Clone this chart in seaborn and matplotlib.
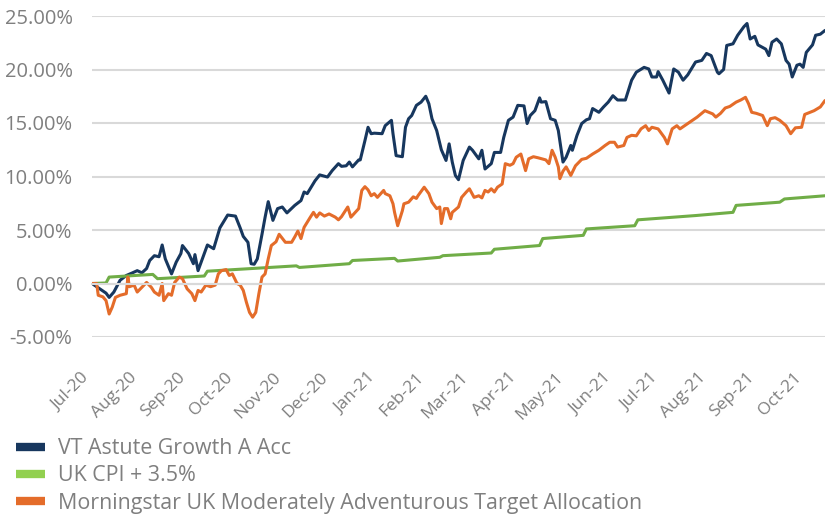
import matplotlib
matplotlib.use("Agg")
import matplotlib.dates as mdates
import matplotlib.pyplot as plt
import pandas as pd
import seaborn as sns
from matplotlib.lines import Line2D
from matplotlib.ticker import FuncFormatter, MultipleLocator

START = pd.Timestamp("2020-07-01")
END_DAY = 470

# days since 1 Jul 2020, cumulative return in %
fund_days = [0, 5, 9, 11, 14, 18, 22, 26, 29, 32, 35, 37, 40, 43, 45, 47, 51, 54, 57, 58,
             62, 65, 66, 68, 72, 74, 78, 82, 87, 92, 95, 97, 100, 102, 104, 106, 109, 111, 113, 116,
             119, 122, 125, 130, 134, 136, 138, 143, 146, 151, 154, 158, 160, 163, 165, 167, 171, 172, 175, 177,
             179, 181, 186, 188, 192, 193, 195, 199, 201, 203, 205, 208, 211, 214, 216, 218, 221, 224, 227, 229,
             231, 233, 235, 238, 242, 244, 248, 250, 252, 256, 258, 262, 264, 267, 270, 273, 277, 279, 281, 284,
             287, 288, 291, 294, 297, 299, 302, 304, 307, 308, 311, 314, 317, 319, 321, 325, 328, 331, 334, 337,
             342, 346, 349, 354, 357, 359, 362, 363, 366, 370, 373, 376, 379, 382, 387, 391, 394, 397, 401, 402,
             405, 407, 411, 414, 418, 420, 422, 425, 427, 432, 434, 436, 439, 442, 445, 447, 449, 452, 454, 456,
             458, 462, 464, 467, 470]
fund_vals = [0.0, -0.5, -0.9, -1.3, -0.8, 0.3, 0.75, 1.0, 1.2, 1.0, 1.4, 2.15, 2.6, 2.5, 3.6, 2.3, 0.9, 2.0, 2.8, 3.55,
             2.8, 1.85, 2.7, 1.2, 2.8, 3.6, 3.25, 5.2, 6.4, 6.3, 5.2, 4.4, 3.85, 1.85, 1.8, 2.3, 4.6, 6.2, 7.65, 5.9,
             7.0, 7.15, 6.6, 7.3, 7.75, 8.55, 8.4, 9.6, 10.15, 9.95, 10.55, 11.2, 10.95, 11.0, 11.35, 10.9, 11.55, 11.55, 13.35, 14.6,
             14.0, 14.05, 14.0, 14.75, 15.25, 14.0, 11.95, 11.85, 14.6, 15.4, 15.7, 16.65, 16.95, 17.5, 16.8, 15.4, 14.3, 12.5, 11.5, 13.05,
             11.35, 10.1, 9.7, 11.5, 12.75, 12.45, 11.65, 12.45, 10.7, 11.2, 12.25, 12.25, 13.65, 15.25, 15.55, 16.65, 16.6, 14.95, 15.7, 16.15,
             17.35, 16.95, 17.0, 15.4, 15.25, 14.3, 11.35, 11.8, 12.9, 12.45, 13.85, 14.95, 15.3, 15.4, 16.35, 16.0, 16.5, 16.95, 17.55, 17.15,
             17.15, 19.0, 19.75, 20.2, 20.05, 19.3, 19.3, 19.8, 19.0, 17.8, 20.05, 19.75, 19.0, 19.5, 20.7, 20.85, 21.5, 21.3, 19.75, 19.6,
             20.0, 22.25, 22.4, 23.2, 24.0, 24.3, 22.85, 23.1, 22.3, 21.9, 21.3, 22.55, 22.85, 22.4, 20.85, 20.5, 19.3, 20.4, 20.5, 20.2,
             21.6, 22.3, 23.2, 23.3, 23.65]

cpi_days = [0, 9, 11, 39, 42, 72, 74, 131, 133, 165, 167, 194, 196, 223, 225, 256, 258, 287, 289, 315,
            317, 348, 350, 387, 411, 413, 441, 444, 470]
cpi_vals = [0.0, 0.05, 0.6, 0.85, 0.45, 0.7, 1.15, 1.65, 1.5, 1.85, 2.15, 2.35, 2.1, 2.45, 2.6, 2.85, 3.2, 3.55, 4.2, 4.5,
            5.1, 5.4, 5.95, 6.35, 6.65, 7.3, 7.6, 7.9, 8.2]

mstar_days = [0, 3, 4, 7, 9, 11, 13, 15, 18, 22, 23, 24, 27, 29, 31, 35, 38, 40, 43, 45,
              46, 49, 51, 53, 56, 58, 61, 64, 66, 68, 70, 73, 76, 79, 81, 83, 86, 88, 90, 93,
              95, 97, 99, 101, 103, 105, 107, 109, 111, 113, 115, 118, 120, 124, 128, 130, 132, 134, 136, 140,
              142, 144, 146, 149, 152, 156, 158, 160, 164, 166, 171, 173, 175, 177, 179, 181, 183, 187, 188, 191,
              193, 194, 196, 199, 200, 203, 206, 208, 209, 213, 216, 218, 221, 223, 224, 226, 228, 230, 231, 235,
              237, 240, 242, 245, 248, 250, 252, 254, 256, 258, 260, 263, 265, 268, 270, 272, 275, 278, 280, 283,
              286, 291, 293, 295, 297, 299, 300, 302, 304, 307, 310, 314, 317, 321, 325, 329, 332, 335, 337, 341,
              343, 346, 349, 352, 355, 357, 359, 363, 367, 369, 372, 375, 377, 380, 385, 388, 393, 398, 400, 403,
              406, 409, 413, 416, 419, 421, 423, 426, 430, 433, 435, 438, 441, 445, 448, 451, 455, 457, 463, 467,
              470]
mstar_vals = [0, 0, -1.1, -1.25, -1.6, -2.85, -2.2, -1.3, -1.1, -0.95, 0.6, -0.3, -0.15, -0.8, -0.5, 0.1, -0.35, -0.8, -1.1, 0.0,
              -1.6, -0.95, -1.1, 0.1, 0.6, 0.45, -0.5, -0.95, -1.6, -0.65, -0.8, -0.15, -0.3, -0.15, 0.9, 1.2, 1.3, 0.75, 0.9, 0.0,
              -0.15, -0.65, -1.75, -2.7, -3.15, -2.7, -0.95, 0.6, 0.9, 2.3, 3.55, 3.9, 4.6, 3.85, 3.85, 4.35, 4.9, 4.2, 5.25, 6.2,
              6.65, 6.2, 6.6, 6.3, 6.5, 6.2, 5.95, 6.25, 7.15, 6.2, 7.0, 8.7, 9.05, 8.75, 8.2, 8.4, 8.05, 8.7, 8.4, 8.2,
              7.45, 6.65, 5.4, 6.8, 7.45, 7.6, 8.1, 7.95, 8.2, 9.0, 8.4, 7.6, 7.0, 7.15, 5.6, 7.0, 7.0, 6.05, 6.65, 7.15,
              8.05, 8.55, 8.85, 8.05, 8.2, 8.0, 8.7, 8.55, 8.85, 8.55, 9.0, 9.3, 11.2, 11.05, 11.2, 11.8, 12.1, 10.55, 11.65, 11.85,
              11.75, 11.55, 11.2, 12.45, 11.8, 10.9, 9.8, 10.5, 10.9, 10.1, 11.0, 11.6, 11.7, 12.1, 12.45, 12.9, 13.2, 13.2, 12.75, 12.9,
              13.65, 13.85, 13.8, 14.45, 14.75, 14.3, 14.6, 14.45, 13.65, 13.05, 14.45, 14.75, 14.45, 14.75, 15.25, 15.55, 16.15, 15.85, 15.55, 15.9,
              16.4, 16.55, 16.95, 17.15, 17.4, 16.8, 16.0, 15.9, 15.7, 14.75, 15.4, 15.5, 15.25, 14.75, 14.0, 14.55, 14.6, 15.8, 16.15, 16.5,
              17.1]

SERIES = ["VT Astute Growth A Acc", "UK CPI + 3.5%",
          "Morningstar UK Moderately Adventurous Target Allocation"]
COLOURS = ["#17375E", "#70AD47", "#E46C2A"]
LEGEND_COLOURS = ["#17375E", "#92D050", "#E46C2A"]
GRID = "#D9D9D9"
TEXT = "#7F7F7F"


def to_frame(name, days, vals):
    dates = START + pd.to_timedelta(days, unit="D")
    return pd.DataFrame({"date": dates, "ret": vals, "series": name})


df = pd.concat([
    to_frame(SERIES[0], fund_days, fund_vals),
    to_frame(SERIES[1], cpi_days, cpi_vals),
    to_frame(SERIES[2], mstar_days, mstar_vals),
], ignore_index=True)

sns.set_style("white")
plt.rcParams["font.family"] = ["Open Sans", "DejaVu Sans"]

fig = plt.figure(figsize=(8.25, 5.15), dpi=100)
ax = fig.add_axes([92 / 825, 1 - 337 / 515, 733 / 825, 321 / 515])

for name, colour in zip(SERIES, COLOURS):
    sub = df[df["series"] == name]
    sns.lineplot(data=sub, x="date", y="ret", color=colour, linewidth=2.2,
                 estimator=None, ax=ax, legend=False)

ax.set_ylim(-5, 25)
ax.set_xlim(START, START + pd.Timedelta(days=END_DAY))
ax.yaxis.set_major_locator(MultipleLocator(5))
ax.yaxis.set_major_formatter(FuncFormatter(lambda v, _: f"{v:.2f}%"))
ax.yaxis.grid(True, color=GRID, linewidth=1.5)
ax.set_axisbelow(True)
ax.set_xlabel("")
ax.set_ylabel("")

for side in ["top", "right", "left"]:
    ax.spines[side].set_visible(False)
ax.spines["bottom"].set_position(("data", 0))
ax.spines["bottom"].set_color(GRID)
ax.spines["bottom"].set_linewidth(1.5)

ax.xaxis.set_major_locator(mdates.MonthLocator())
ax.xaxis.set_major_formatter(mdates.DateFormatter("%b-%y"))
ax.tick_params(axis="x", direction="out", length=5, width=1.2, color=GRID,
               pad=57, labelsize=12.5, labelcolor=TEXT, labelrotation=45)
for lab in ax.get_xticklabels():
    lab.set_ha("right")
ax.tick_params(axis="y", length=0, pad=14, labelsize=14.5, labelcolor=TEXT)

handles = [Line2D([], [], color=c, linewidth=6, solid_capstyle="butt")
           for c in LEGEND_COLOURS]
fig.legend(handles, SERIES, loc="upper left",
           bbox_to_anchor=(16 / 825, 1 - 438 / 515), frameon=False,
           fontsize=15.4, labelcolor=TEXT, handlelength=1.35,
           handletextpad=0.6, labelspacing=0.3, borderpad=0, borderaxespad=0)

fig.savefig("out.png", dpi=100)
plt.close(fig)
